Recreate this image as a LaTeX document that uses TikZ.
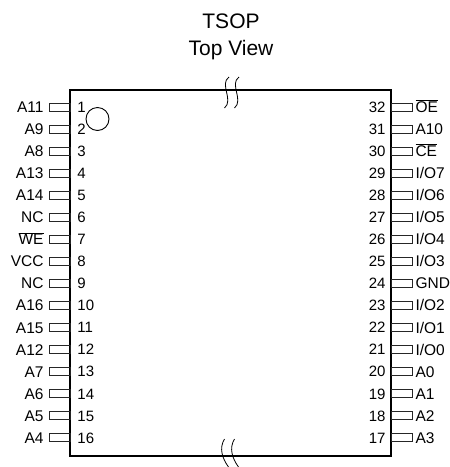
\documentclass[tikz,border=0pt]{standalone}
\usepackage{fontspec}
\setmainfont{Liberation Sans}
\usetikzlibrary{positioning}

\tikzset{
  pinbox/.style={draw=black!85, line width=0.6pt, minimum width=21pt, minimum height=8pt, inner sep=0pt},
  pinlab/.style={font=\fontsize{15.5}{15.5}\selectfont, inner sep=0pt, text height=11pt, text depth=0pt},
  pinnum/.style={font=\fontsize{15}{15}\selectfont, inner sep=0pt, text height=10.7pt, text depth=0pt},
  breakmark/.style={line width=0.8pt},
}
\newcommand{\ovl}[1]{$\overline{\mbox{#1}}$}

\begin{document}
\begin{tikzpicture}[x=1pt, y=-1pt]
        \useasboundingbox (0,0) rectangle (450,467);
        % title
        \node[anchor=base, font=\fontsize{21}{21}\selectfont] (title) at (231,28.3) {TSOP};
        \node[anchor=base, font=\fontsize{21}{21}\selectfont] (view) at (231,55) {Top View};
        % package body
        \node[draw, line width=1.2pt, minimum width=321pt, minimum height=366pt, inner sep=0pt] (body) at (230.5,273) {};
        \node[draw, circle, line width=0.9pt, minimum size=23pt, inner sep=0pt] (dot) at (97.5,119) {};
        % left side pins
        \foreach \n/\lab in {1/A11, 2/A9, 3/A8, 4/A13, 5/A14, 6/NC, 7/\ovl{WE}, 8/VCC,
                             9/NC, 10/A16, 11/A15, 12/A12, 13/A7, 14/A6, 15/A5, 16/A4} {
          \node[pinbox] (p\n) at (59.5, {107+(\n-1)*22.05}) {};
          \node[pinlab, left=5pt of p\n] (l\n) {\lab};
          \node[pinnum, right=7pt of p\n] (n\n) {\n};
        }
        % right side pins
        \foreach \n/\lab in {32/\ovl{OE}, 31/A10, 30/\ovl{CE}, 29/{I/O7}, 28/{I/O6}, 27/{I/O5}, 26/{I/O4}, 25/{I/O3},
                             24/GND, 23/{I/O2}, 22/{I/O1}, 21/{I/O0}, 20/A0, 19/A1, 18/A2, 17/A3} {
          \node[pinbox] (p\n) at (401.5, {107+(32-\n)*22.05}) {};
          \node[pinlab, right=3pt of p\n] (l\n) {\lab};
          \node[pinnum, left=5pt of p\n] (n\n) {\n};
        }
        % break marks
        \draw[breakmark] (229,77) .. controls (219,84) and (234,100) .. (224.5,108);
        \draw[breakmark] (239,77) .. controls (229,84) and (244,100) .. (234.5,108);
        \draw[breakmark] (224.5,439) .. controls (219,448) and (222,458) .. (228.5,467);
        \draw[breakmark] (234.5,439) .. controls (229,448) and (232,458) .. (238.5,467);
\end{tikzpicture}
\end{document}
